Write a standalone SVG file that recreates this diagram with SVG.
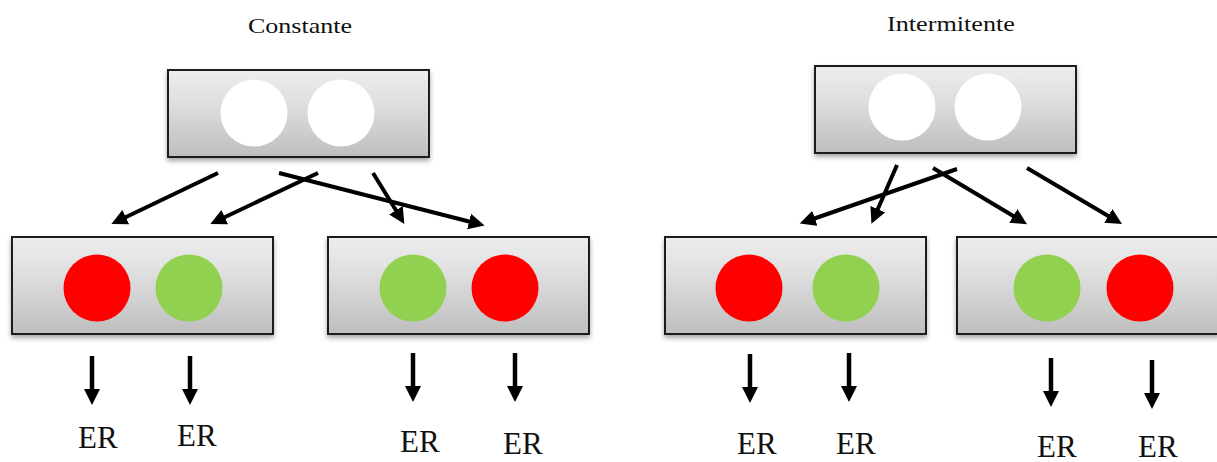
<svg xmlns="http://www.w3.org/2000/svg" width="1217" height="462" viewBox="0 0 1217 462">
  <style>
    .panel { fill: url(#panelFill); stroke: #1e1e1e; stroke-width: 2; filter: url(#shadow); }
    .lamp-off { fill: #ffffff; filter: url(#soft); }
    .lamp-red { fill: #ff0000; }
    .lamp-green { fill: #92d050; }
    .title { font-family: "Liberation Serif", "Times New Roman", serif; font-size: 22px; fill: #111; }
    .er { font-family: "Liberation Serif", "Times New Roman", serif; font-size: 31px; fill: #111; }
    .link { stroke: #000; stroke-width: 4; fill: none; marker-end: url(#head); }
    .drop { stroke: #000; stroke-width: 4.5; fill: none; marker-end: url(#head); }
  </style>
  <defs>
    <linearGradient id="panelFill" x1="0" y1="0" x2="0" y2="1">
      <stop offset="0" stop-color="#ededed"/>
      <stop offset="0.35" stop-color="#e0e0e0"/>
      <stop offset="1" stop-color="#bebebe"/>
    </linearGradient>
    <filter id="shadow" x="-5%" y="-10%" width="110%" height="130%">
      <feDropShadow dx="0" dy="3" stdDeviation="2.5" flood-color="#000" flood-opacity="0.35"/>
    </filter>
    <filter id="soft" x="-10%" y="-10%" width="120%" height="120%">
      <feGaussianBlur stdDeviation="0.6"/>
    </filter>
    <marker id="head" markerUnits="userSpaceOnUse" markerWidth="17" markerHeight="17" refX="2" refY="8" orient="auto">
      <path d="M0,0 L16,8 L0,16 z" fill="#000"/>
    </marker>
  </defs>

  <rect width="1217" height="462" fill="#ffffff"/>

  <!-- Titles -->
  <text class="title" x="248" y="33" textLength="104" lengthAdjust="spacingAndGlyphs">Constante</text>
  <text class="title" x="887" y="31" textLength="128" lengthAdjust="spacingAndGlyphs">Intermitente</text>

  <!-- Constant mode: source panel -->
  <g id="const-source">
    <rect class="panel" x="168" y="70" width="261" height="87"/>
    <circle class="lamp-off" cx="254" cy="113" r="33.5"/>
    <circle class="lamp-off" cx="341" cy="113" r="33.5"/>
  </g>

  <!-- Constant mode: result panels -->
  <g id="const-left">
    <rect class="panel" x="12" y="237" width="261" height="97"/>
    <circle class="lamp-red" cx="97" cy="288" r="33.5"/>
    <circle class="lamp-green" cx="189" cy="288" r="33.5"/>
  </g>
  <g id="const-right">
    <rect class="panel" x="328" y="237" width="261" height="97"/>
    <circle class="lamp-green" cx="413" cy="288" r="33.5"/>
    <circle class="lamp-red" cx="505" cy="288" r="33.5"/>
  </g>

  <!-- Intermittent mode: source panel -->
  <g id="int-source">
    <rect class="panel" x="815" y="66" width="261" height="87"/>
    <circle class="lamp-off" cx="902" cy="107" r="33.5"/>
    <circle class="lamp-off" cx="988" cy="107" r="33.5"/>
  </g>

  <!-- Intermittent mode: result panels -->
  <g id="int-left">
    <rect class="panel" x="665" y="237" width="261" height="97"/>
    <circle class="lamp-red" cx="749" cy="288" r="33.5"/>
    <circle class="lamp-green" cx="846" cy="288" r="33.5"/>
  </g>
  <g id="int-right">
    <rect class="panel" x="957" y="237" width="262" height="97"/>
    <circle class="lamp-green" cx="1047" cy="288" r="33.5"/>
    <circle class="lamp-red" cx="1140" cy="288" r="33.5"/>
  </g>

  <!-- Connectors -->
  <g id="connectors">
    <!-- constant -->
    <line class="link" x1="218" y1="173" x2="124" y2="218"/>
    <line class="link" x1="318" y1="173" x2="223" y2="218"/>
    <line class="link" x1="279" y1="173" x2="471" y2="222"/>
    <line class="link" x1="373" y1="173" x2="397" y2="212"/>
    <!-- intermittent -->
    <line class="link" x1="897" y1="165" x2="877" y2="211"/>
    <line class="link" x1="957" y1="169" x2="813" y2="219"/>
    <line class="link" x1="933" y1="168" x2="1015" y2="217"/>
    <line class="link" x1="1027" y1="168" x2="1110" y2="217"/>
    <!-- outputs -->
    <line class="drop" x1="92" y1="356" x2="92" y2="391"/>
    <line class="drop" x1="190" y1="356" x2="190" y2="391"/>
    <line class="drop" x1="413" y1="353" x2="413" y2="388"/>
    <line class="drop" x1="515" y1="353" x2="515" y2="388"/>
    <line class="drop" x1="750" y1="354" x2="750" y2="389"/>
    <line class="drop" x1="849" y1="353" x2="849" y2="388"/>
    <line class="drop" x1="1051" y1="358" x2="1051" y2="393"/>
    <line class="drop" x1="1152" y1="360" x2="1152" y2="395"/>
  </g>

  <!-- Output labels -->
  <g id="labels">
    <text class="er" x="78" y="448">ER</text>
    <text class="er" x="177" y="446">ER</text>
    <text class="er" x="400" y="452">ER</text>
    <text class="er" x="503" y="454">ER</text>
    <text class="er" x="737" y="454">ER</text>
    <text class="er" x="836" y="454">ER</text>
    <text class="er" x="1037" y="457">ER</text>
    <text class="er" x="1138" y="457">ER</text>
  </g>
</svg>
